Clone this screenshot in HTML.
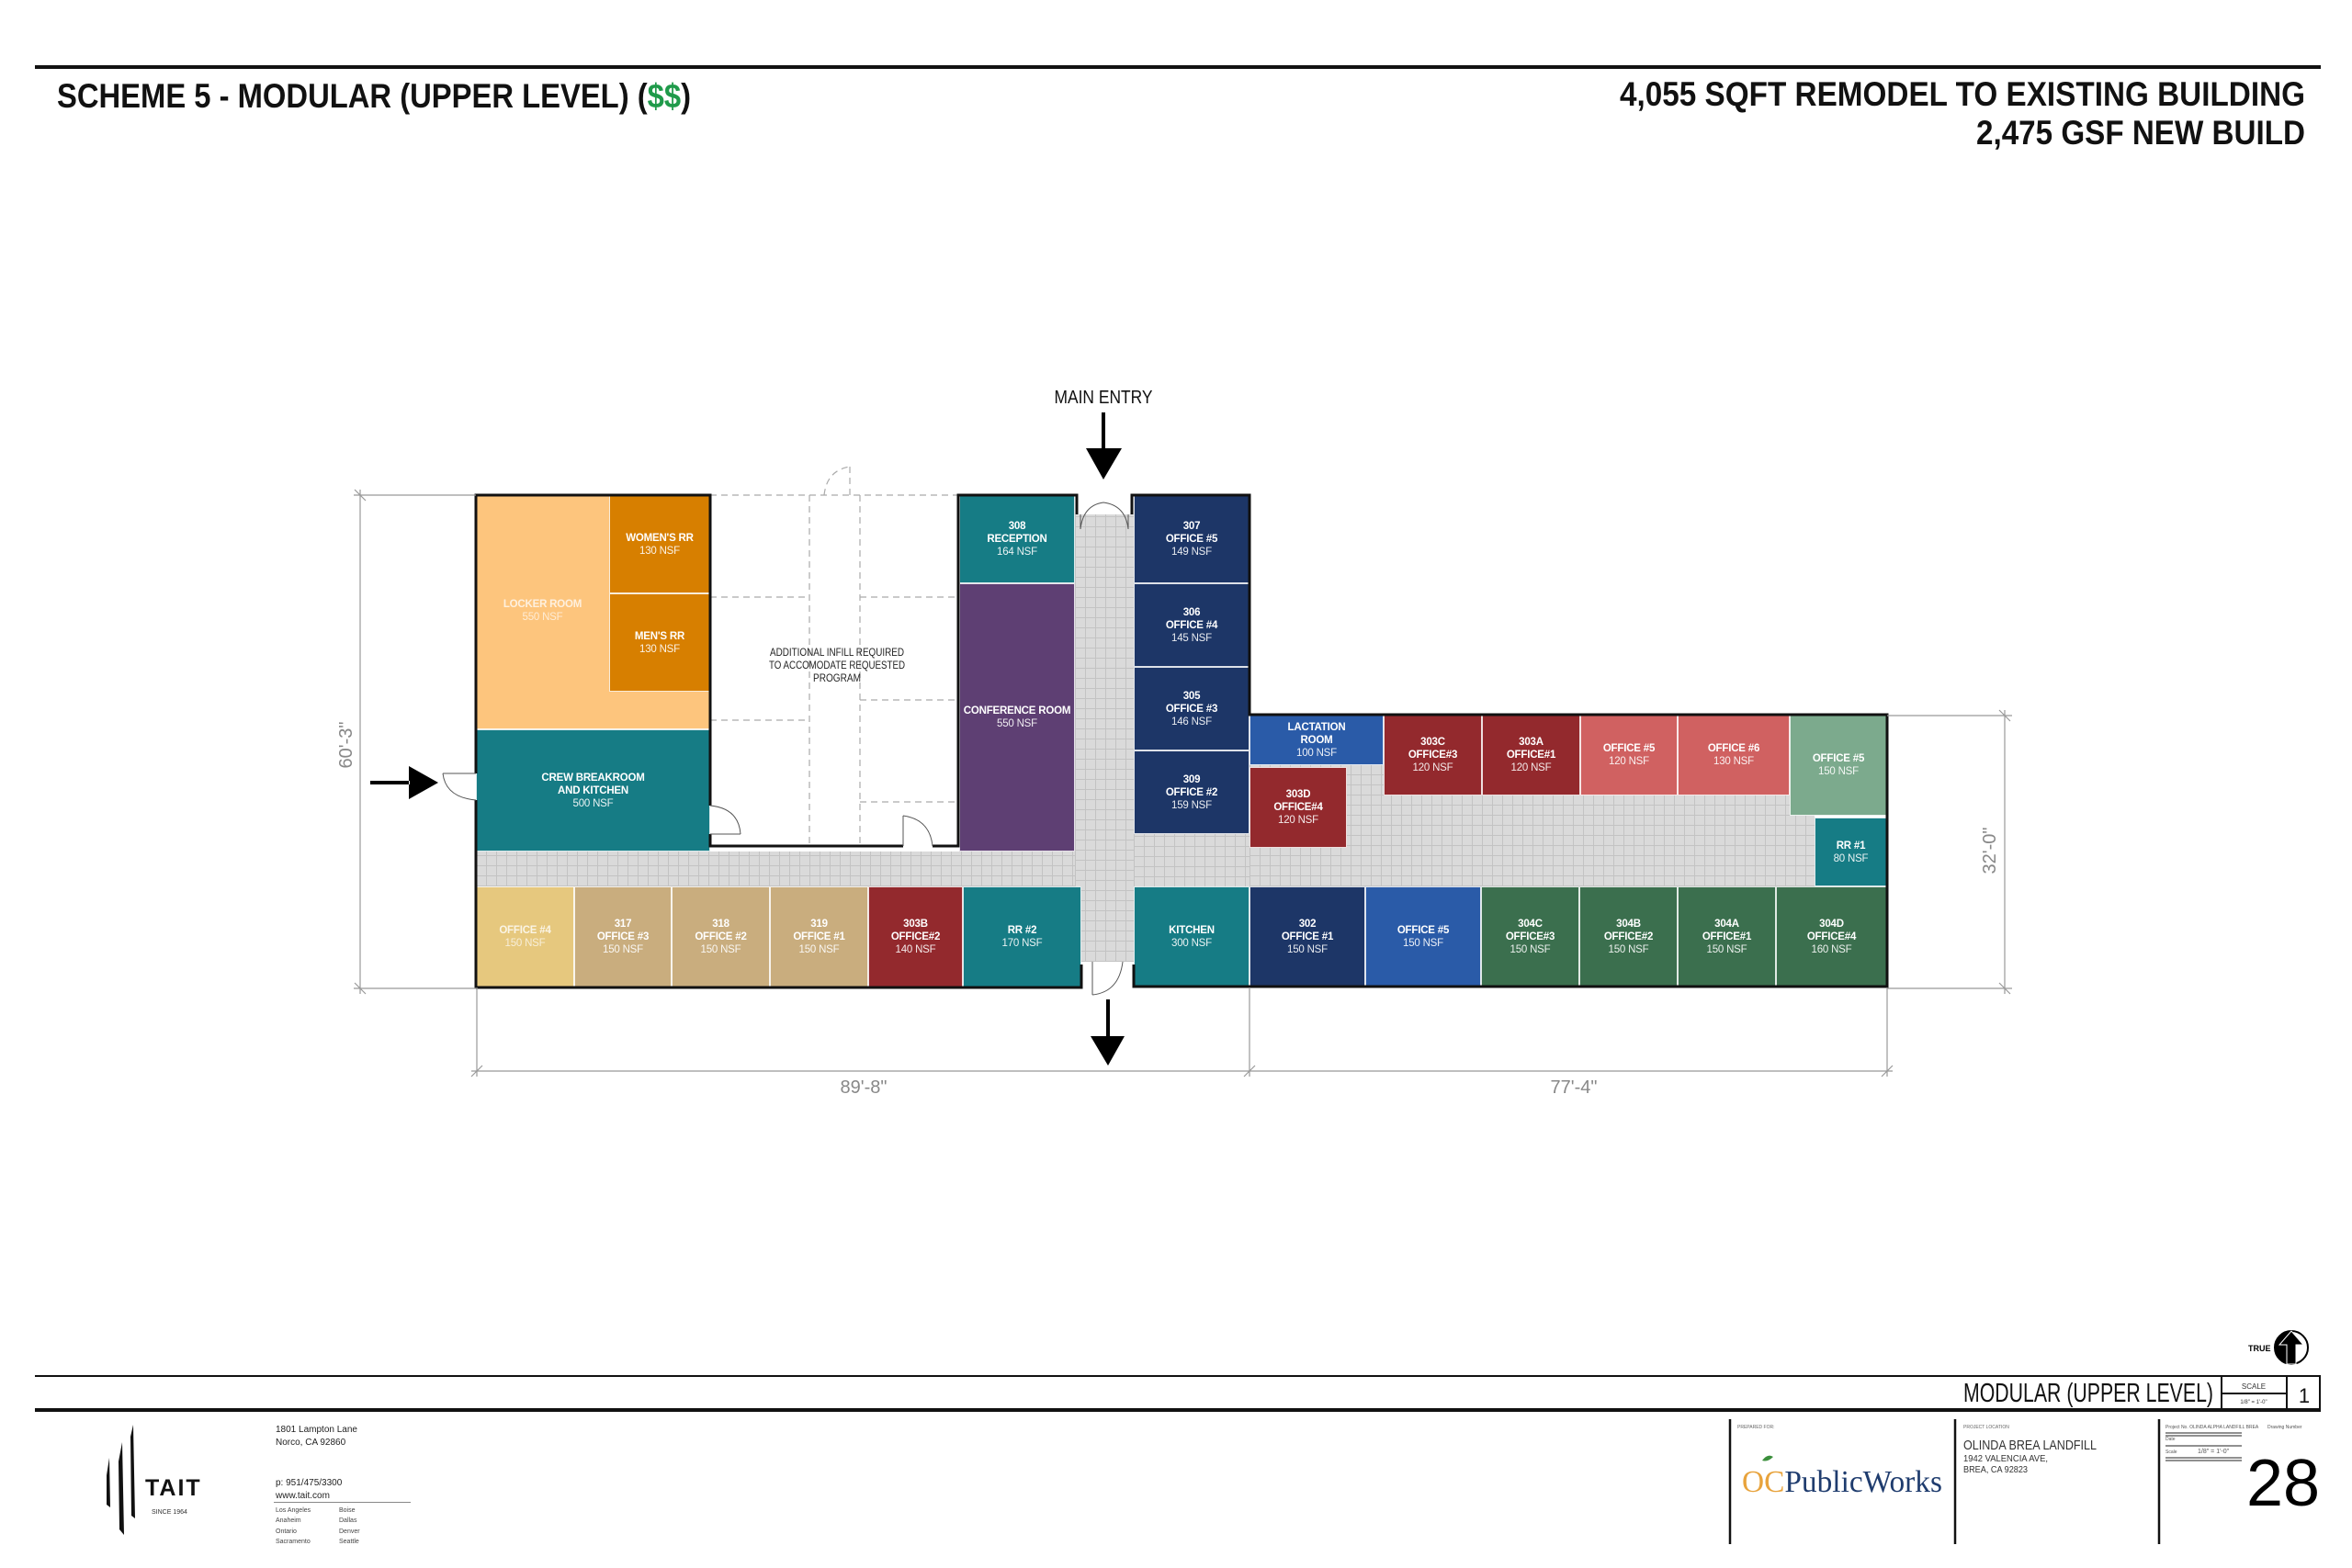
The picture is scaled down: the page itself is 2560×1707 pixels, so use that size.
<!DOCTYPE html>
<html><head><meta charset="utf-8"><style>
html,body{margin:0;padding:0;background:#fff;}
#pg{position:relative;width:2560px;height:1707px;overflow:hidden;background:#fff;font-family:"Liberation Sans",sans-serif;}
.r{position:absolute;box-sizing:border-box;border:1px solid rgba(255,255,255,.85);display:flex;flex-direction:column;align-items:center;justify-content:center;color:#fff;font-family:"Liberation Sans Narrow","Liberation Sans",sans-serif;font-size:11.5px;line-height:14px;text-align:center;white-space:nowrap;letter-spacing:-0.2px;}
.r b{font-weight:bold;}
.r span{font-weight:normal;opacity:.9}
.g{position:absolute;background-color:#dadada;background-image:repeating-linear-gradient(90deg,#c3c3c3 0 1px,transparent 1px 11px),repeating-linear-gradient(0deg,#c3c3c3 0 1px,transparent 1px 11px);}
</style></head><body><div id="pg">

<!-- corridors -->
<div class="g" style="left:518px;top:927px;width:1457px;height:38px"></div>
<div class="g" style="left:1170px;top:560px;width:64px;height:487px"></div>
<div class="g" style="left:1234px;top:906px;width:126px;height:60px"></div>
<div class="g" style="left:1360px;top:778px;width:615px;height:187px"></div>

<!-- rooms -->
<div class="r" style="left:518px;top:539px;width:255px;height:255px;background:#FDC57D"></div>
<div class="r" style="left:518px;top:640px;width:145px;height:50px;border:none;opacity:.75"><b>LOCKER ROOM</b><span>550 NSF</span></div>
<div class="r" style="left:663px;top:539px;width:110px;height:107px;background:#D77F00"><b>WOMEN'S RR</b><span>130 NSF</span></div>
<div class="r" style="left:663px;top:646px;width:110px;height:107px;background:#D77F00"><b>MEN'S RR</b><span>130 NSF</span></div>
<div class="r" style="left:518px;top:794px;width:255px;height:133px;background:#167C85"><b>CREW BREAKROOM</b><b>AND KITCHEN</b><span>500 NSF</span></div>
<div class="r" style="left:1044px;top:539px;width:126px;height:96px;background:#167C85"><b>308</b><b>RECEPTION</b><span>164 NSF</span></div>
<div class="r" style="left:1044px;top:635px;width:126px;height:292px;background:#5E3F73"><b>CONFERENCE ROOM</b><span>550 NSF</span></div>
<div class="r" style="left:1234px;top:539px;width:126px;height:96px;background:#1D3667"><b>307</b><b>OFFICE #5</b><span>149 NSF</span></div>
<div class="r" style="left:1234px;top:635px;width:126px;height:91px;background:#1D3667"><b>306</b><b>OFFICE #4</b><span>145 NSF</span></div>
<div class="r" style="left:1234px;top:726px;width:126px;height:91px;background:#1D3667"><b>305</b><b>OFFICE #3</b><span>146 NSF</span></div>
<div class="r" style="left:1234px;top:817px;width:126px;height:91px;background:#1D3667"><b>309</b><b>OFFICE #2</b><span>159 NSF</span></div>

<div class="r" style="left:518px;top:965px;width:107px;height:110px;background:#E6C87E"><b style="opacity:.8">OFFICE #4</b><span style="opacity:.7">150 NSF</span></div>
<div class="r" style="left:625px;top:965px;width:106px;height:110px;background:#C9AD7E"><b>317</b><b>OFFICE #3</b><span>150 NSF</span></div>
<div class="r" style="left:731px;top:965px;width:107px;height:110px;background:#C9AD7E"><b>318</b><b>OFFICE #2</b><span>150 NSF</span></div>
<div class="r" style="left:838px;top:965px;width:107px;height:110px;background:#C9AD7E"><b>319</b><b>OFFICE #1</b><span>150 NSF</span></div>
<div class="r" style="left:945px;top:965px;width:103px;height:110px;background:#93292D"><b>303B</b><b>OFFICE#2</b><span>140 NSF</span></div>
<div class="r" style="left:1048px;top:965px;width:129px;height:110px;background:#167C85"><b>RR #2</b><span>170 NSF</span></div>
<div class="r" style="left:1234px;top:965px;width:126px;height:110px;background:#167C85"><b>KITCHEN</b><span>300 NSF</span></div>

<div class="r" style="left:1360px;top:778px;width:146px;height:55px;background:#2A5BA8"><b>LACTATION</b><b>ROOM</b><span>100 NSF</span></div>
<div class="r" style="left:1360px;top:835px;width:106px;height:88px;background:#93292D"><b>303D</b><b>OFFICE#4</b><span>120 NSF</span></div>
<div class="r" style="left:1506px;top:778px;width:107px;height:88px;background:#93292D"><b>303C</b><b>OFFICE#3</b><span>120 NSF</span></div>
<div class="r" style="left:1613px;top:778px;width:107px;height:88px;background:#93292D"><b>303A</b><b>OFFICE#1</b><span>120 NSF</span></div>
<div class="r" style="left:1720px;top:778px;width:106px;height:88px;background:#D06161"><b>OFFICE #5</b><span>120 NSF</span></div>
<div class="r" style="left:1826px;top:778px;width:122px;height:88px;background:#D06161"><b>OFFICE #6</b><span>130 NSF</span></div>
<div class="r" style="left:1948px;top:778px;width:106px;height:110px;background:#7CAA8D"><b>OFFICE #5</b><span>150 NSF</span></div>
<div class="r" style="left:1975px;top:890px;width:79px;height:75px;background:#167C85"><b>RR #1</b><span>80 NSF</span></div>

<div class="r" style="left:1360px;top:965px;width:126px;height:110px;background:#1D3667"><b>302</b><b>OFFICE #1</b><span>150 NSF</span></div>
<div class="r" style="left:1486px;top:965px;width:126px;height:110px;background:#2A5BA8"><b>OFFICE #5</b><span>150 NSF</span></div>
<div class="r" style="left:1612px;top:965px;width:107px;height:110px;background:#3B6F4E"><b>304C</b><b>OFFICE#3</b><span>150 NSF</span></div>
<div class="r" style="left:1719px;top:965px;width:107px;height:110px;background:#3B6F4E"><b>304B</b><b>OFFICE#2</b><span>150 NSF</span></div>
<div class="r" style="left:1826px;top:965px;width:107px;height:110px;background:#3B6F4E"><b>304A</b><b>OFFICE#1</b><span>150 NSF</span></div>
<div class="r" style="left:1933px;top:965px;width:121px;height:110px;background:#3B6F4E"><b>304D</b><b>OFFICE#4</b><span>160 NSF</span></div>

<svg style="position:absolute;left:0;top:0" width="2560" height="1707" viewBox="0 0 2560 1707">
<g stroke="#aaa" stroke-width="1.2" stroke-dasharray="7,5" fill="none">
<path d="M773 539H1044 M881 539V921 M936 539V921 M773 650H881 M936 650H1044 M773 784H881 M936 762H1044 M936 873H1044"/>
<path d="M897 539 Q900 512 925 508 M925 508V539"/>
</g>
<g font-family="Liberation Sans Narrow, Liberation Sans, sans-serif" font-size="12" text-anchor="middle" fill="#222">
<text x="911" y="714" textLength="146" lengthAdjust="spacingAndGlyphs">ADDITIONAL INFILL REQUIRED</text>
<text x="911" y="728" textLength="148" lengthAdjust="spacingAndGlyphs">TO ACCOMODATE REQUESTED</text>
<text x="911" y="742" textLength="52" lengthAdjust="spacingAndGlyphs">PROGRAM</text>
</g>
<g stroke="#111" stroke-width="3" fill="none">
<path d="M518 842V539H773V877 M773 908V921H983 M1015 921H1043V539H1172V560 M1232 560V539H1360V778H2054V1074H1234V1050 M1177 1050V1075H518V871"/>
</g>
<g stroke="#555" stroke-width="1" fill="none">
<path d="M518 842H482 M482 842Q485 868 518 871"/>
<path d="M773 908H806 M773 877Q804 880 806 908"/>
<path d="M983 921V888 M983 888Q1012 892 1015 921"/>
<path d="M1176 560V576 M1176 576Q1179 550 1201 547 M1228 560V576 M1228 576Q1225 550 1201 547"/>
<path d="M1189 1047V1083 M1189 1083Q1218 1080 1222 1047"/>
</g>
<g stroke="#999" stroke-width="1.2" fill="none">
<path d="M385 539H518 M385 1076H518 M392 533V1082 M386 533L398 545 M386 1070L398 1082"/>
<path d="M2054 779H2190 M2054 1076H2190 M2182 773V1082 M2176 773L2188 785 M2176 1070L2188 1082"/>
<path d="M519 1075V1172 M1360 1075V1172 M2054 1075V1172 M513 1166H2060 M513 1172L525 1160 M1354 1172L1366 1160 M2048 1172L2060 1160"/>
</g>
<g font-family="Liberation Sans, sans-serif" font-size="20" fill="#888">
<text transform="translate(383,811) rotate(-90)" text-anchor="middle">60'-3"</text>
<text transform="translate(2172,926) rotate(-90)" text-anchor="middle">32'-0"</text>
<text x="940" y="1190" text-anchor="middle">89'-8"</text>
<text x="1713" y="1190" text-anchor="middle">77'-4"</text>
</g>
<text x="1201" y="439" font-family="Liberation Sans Narrow, Liberation Sans, sans-serif" font-size="20" text-anchor="middle" textLength="107" lengthAdjust="spacingAndGlyphs" fill="#111">MAIN ENTRY</text>
<path d="M1199 449h4v40h-4z M1182 488H1221L1201 522Z" fill="#000"/>
<path d="M1204 1088h4v41h-4z M1187 1128H1224L1206 1160Z" fill="#000"/>
<path d="M403 850h43v4h-43z M445 834V870L477 852Z" fill="#000"/>
<!-- header -->
<rect x="38" y="71" width="2488" height="4" fill="#111"/>
<text x="62" y="117" font-family="Liberation Sans Narrow, Liberation Sans, sans-serif" font-weight="bold" font-size="37" textLength="690" lengthAdjust="spacingAndGlyphs" fill="#111">SCHEME 5 - MODULAR (UPPER LEVEL) (<tspan fill="#1f9a4a">$$</tspan>)</text>
<text x="1763" y="115" font-family="Liberation Sans Narrow, Liberation Sans, sans-serif" font-weight="bold" font-size="37" textLength="746" lengthAdjust="spacingAndGlyphs" fill="#111">4,055 SQFT REMODEL TO EXISTING BUILDING</text>
<text x="2151" y="157" font-family="Liberation Sans Narrow, Liberation Sans, sans-serif" font-weight="bold" font-size="37" textLength="358" lengthAdjust="spacingAndGlyphs" fill="#111">2,475 GSF NEW BUILD</text>
<!-- footer -->
<rect x="38" y="1497" width="2488" height="2" fill="#111"/>
<rect x="38" y="1533" width="2488" height="4" fill="#111"/>
<text x="2137" y="1526" font-family="Liberation Sans Narrow, Liberation Sans, sans-serif" font-size="29" textLength="272" lengthAdjust="spacingAndGlyphs" fill="#111">MODULAR (UPPER LEVEL)</text>
<path d="M2418 1499V1533 M2489 1499V1533 M2525 1499V1533 M2418 1517H2489" stroke="#111" stroke-width="2"/>
<text x="2453" y="1512" font-family="Liberation Sans, sans-serif" font-size="8" text-anchor="middle" fill="#333">SCALE</text>
<text x="2453" y="1528" font-family="Liberation Sans, sans-serif" font-size="6" text-anchor="middle" fill="#333">1/8" = 1'-0"</text>
<text x="2508" y="1527" font-family="Liberation Sans, sans-serif" font-size="22" text-anchor="middle" fill="#111">1</text>
<path d="M1883 1545V1681 M2128 1545V1681 M2350 1545V1681" stroke="#111" stroke-width="2.5"/>
<text x="1891" y="1555" font-family="Liberation Sans, sans-serif" font-size="5" fill="#666">PREPARED FOR:</text>
<text x="2137" y="1555" font-family="Liberation Sans, sans-serif" font-size="5" fill="#666">PROJECT LOCATION</text>
<text x="1896" y="1624" font-family="Liberation Serif, serif" font-size="34" textLength="218" lengthAdjust="spacingAndGlyphs" fill="#1f3c6e"><tspan fill="#e8a33c">OC</tspan>PublicWorks</text>
<path d="M1918 1590q6-8 12-4q-6 6-12 4z" fill="#3b8f3c"/>
<text x="2137" y="1578" font-family="Liberation Sans Narrow, Liberation Sans, sans-serif" font-size="15" textLength="145" lengthAdjust="spacingAndGlyphs" fill="#333">OLINDA BREA LANDFILL</text>
<text x="2137" y="1591" font-family="Liberation Sans Narrow, Liberation Sans, sans-serif" font-size="10" textLength="92" lengthAdjust="spacingAndGlyphs" fill="#333">1942 VALENCIA AVE,</text>
<text x="2137" y="1603" font-family="Liberation Sans Narrow, Liberation Sans, sans-serif" font-size="10" textLength="70" lengthAdjust="spacingAndGlyphs" fill="#333">BREA, CA 92823</text>
<g font-family="Liberation Sans, sans-serif" font-size="5" fill="#555">
<text x="2357" y="1555">Project No. OLINDA ALPHA LANDFILL BREA</text>
<text x="2468" y="1555">Drawing Number</text>
<text x="2357" y="1568">Date</text>
<text x="2357" y="1582">Scale</text>
<text x="2392" y="1582" font-size="7">1/8" = 1'-0"</text>
</g>
<path d="M2357 1560H2440 M2357 1563H2440 M2357 1574H2440 M2357 1587H2440 M2357 1590H2440" stroke="#222" stroke-width="1"/>
<text x="2485" y="1639" font-family="Liberation Sans, sans-serif" font-size="72" text-anchor="middle" fill="#000">28</text>
<text x="2447" y="1471" font-family="Liberation Sans Narrow, Liberation Sans, sans-serif" font-weight="bold" font-size="9" fill="#000">TRUE</text>
<circle cx="2494" cy="1467" r="18" fill="#fff" stroke="#000" stroke-width="2"/>
<path d="M2476 1467A18 18 0 0 1 2494 1449V1485A18 18 0 0 1 2476 1467Z" fill="#000"/>
<path d="M2494 1449L2481 1464H2489V1485H2499V1464H2507Z" fill="#000" stroke="#fff" stroke-width="1"/>
<!-- TAIT -->
<path d="M116 1606L119 1587L120 1641L116 1638Z M129 1591L133 1570L135 1671L130 1665Z M142 1564L145 1551L147 1653L143 1650Z" fill="#111"/>
<text x="158" y="1628" font-family="Liberation Sans, sans-serif" font-weight="bold" font-size="25" letter-spacing="2" fill="#111">TAIT</text>
<text x="165" y="1648" font-family="Liberation Sans, sans-serif" font-size="7" fill="#333">SINCE 1964</text>
<g font-family="Liberation Sans, sans-serif" font-size="10" fill="#222">
<text x="300" y="1559">1801 Lampton Lane</text>
<text x="300" y="1573">Norco, CA 92860</text>
<text x="300" y="1617">p: 951/475/3300</text>
<text x="300" y="1631">www.tait.com</text>
</g>
<rect x="298" y="1635" width="149" height="1" fill="#888"/>
<g font-family="Liberation Sans, sans-serif" font-size="7" fill="#444">
<text x="300" y="1646">Los Angeles</text><text x="369" y="1646">Boise</text>
<text x="300" y="1657">Anaheim</text><text x="369" y="1657">Dallas</text>
<text x="300" y="1669">Ontario</text><text x="369" y="1669">Denver</text>
<text x="300" y="1680">Sacramento</text><text x="369" y="1680">Seattle</text>
</g>
</svg>
</div></body></html>
